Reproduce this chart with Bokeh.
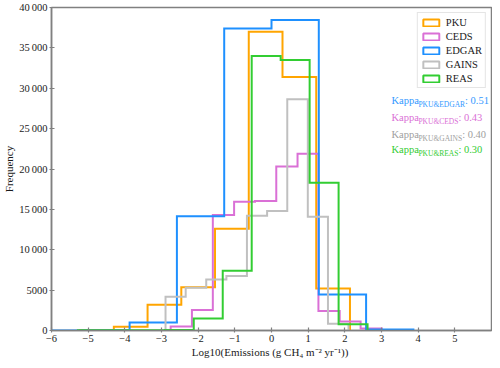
from bokeh.plotting import figure
from bokeh.models import (Range1d, CustomJSTickFormatter, FixedTicker, Label,
                          Legend, LegendItem)
from bokeh.embed import file_html
from bokeh.resources import INLINE

# ---------------- data ----------------
names = ["PKU", "CEDS", "EDGAR", "GAINS", "REAS"]
colors = ["#FFA500", "#DA70D6", "#1E90FF", "#C0C0C0", "#32CD32"]

pku_edges = [-5.22, -4.30, -3.38, -2.46, -1.54, -0.62, 0.30, 1.22, 2.14]
pku_counts = [60, 450, 3200, 5350, 12600, 37000, 31400, 5200]

ceds_edges = [-2.75, -2.17, -1.60, -1.02, -0.45, 0.13, 0.71, 1.28, 1.86, 2.43, 3.01]
ceds_counts = [500, 2550, 14300, 15950, 16050, 20300, 21900, 2400, 1100, 250]

edgar_edges = [-6.45, -5.16, -3.87, -2.58, -1.29, 0.00, 1.29, 2.58, 3.87]
edgar_counts = [10, 20, 1000, 14150, 37400, 38450, 4450, 120]

gains_edges = [-2.89, -2.34, -1.78, -1.23, -0.67, -0.12, 0.43, 0.99, 1.54, 2.10]
gains_counts = [4180, 5300, 6320, 6750, 14200, 14800, 28650, 14100, 850]

reas_edges = [-5.28, -4.49, -3.70, -2.91, -2.12, -1.33, -0.54, 0.25, 1.04, 1.83, 2.62]
reas_counts = [20, 20, 30, 60, 1500, 7400, 34000, 33500, 18300, 780]

x_ticks = [-6, -5, -4, -3, -2, -1, 0, 1, 2, 3, 4, 5]
y_ticks = [0, 5000, 10000, 15000, 20000, 25000, 30000, 35000, 40000]

kappa_pairs = ["PKU&EDGAR", "PKU&CEDS", "PKU&GAINS", "PKU&REAS"]
kappa_values = [0.51, 0.43, 0.40, 0.30]
kappa_colors = ["#3399FF", "#DA70D6", "#A0A0A0", "#33CC33"]

FONT = "Liberation Serif"

# ---------------- figure ----------------
p = figure(width=492, height=360, x_range=Range1d(-6, 6), y_range=Range1d(0, 40000),
           output_backend="svg", toolbar_location=None,
           min_border_left=0, min_border_right=1, min_border_top=7, min_border_bottom=0)
p.grid.visible = False
p.outline_line_color = "#808080"
p.outline_line_width = 1.5
p.background_fill_color = "white"
p.border_fill_color = "white"

for ax in (p.xaxis[0], p.yaxis[0]):
    ax.axis_line_color = "#808080"
    ax.axis_line_width = 1.5
    ax.major_tick_line_color = "#808080"
    ax.major_tick_line_width = 1.2
    ax.minor_tick_line_color = None
    ax.major_label_text_font = FONT
    ax.major_label_text_font_size = "10.5px"
    ax.major_label_text_color = "#1a1a1a"
    ax.axis_label_text_font = FONT
    ax.axis_label_text_font_size = "11px"
    ax.axis_label_text_font_style = "normal"
    ax.axis_label_text_color = "#1a1a1a"
    ax.major_tick_in = 3
    ax.major_tick_out = 2

p.xaxis[0].ticker = FixedTicker(ticks=x_ticks)
p.yaxis[0].ticker = FixedTicker(ticks=y_ticks)
p.xaxis[0].formatter = CustomJSTickFormatter(
    code="return tick < 0 ? '\\u2212' + Math.abs(tick) : String(tick);")
p.yaxis[0].formatter = CustomJSTickFormatter(
    code="const t = Math.round(tick); if (t >= 10000) { return Math.floor(t/1000) + '\\u2009' + String(t % 1000).padStart(3, '0'); } return String(t);")
p.xaxis[0].major_label_standoff = 2
p.yaxis[0].major_label_standoff = 2
p.xaxis[0].axis_label_standoff = 1
p.yaxis[0].axis_label_standoff = 1
p.xaxis[0].axis_label = "Log10(Emissions (g  CH\u2084 m\u207b\u00b2 yr\u207b\u00b9))"
p.yaxis[0].axis_label = "Frequency"


def step_outline(edges, counts):
    xs = [edges[0]]
    ys = [0]
    for i, c in enumerate(counts):
        xs += [edges[i], edges[i + 1]]
        ys += [c, c]
    xs.append(edges[-1])
    ys.append(0)
    return xs, ys


series = [(pku_edges, pku_counts), (ceds_edges, ceds_counts), (edgar_edges, edgar_counts),
          (gains_edges, gains_counts), (reas_edges, reas_counts)]

items = []
for name, col, (e, c) in zip(names, colors, series):
    xs, ys = step_outline(e, c)
    p.line(xs, ys, line_color=col, line_width=2, line_join="miter")
    # zero-size proxy quad (at the series' first edge, on the baseline) for the legend swatch
    q = p.quad(left=[e[0]], right=[e[0]], top=[0], bottom=[0], fill_color="white",
               line_color=col, line_width=2, line_alpha=1.0)
    items.append(LegendItem(label=name, renderers=[q]))

legend = Legend(items=items, location="top_right")
legend.label_text_font = FONT
legend.label_text_font_size = "10.5px"
legend.label_text_color = "#1a1a1a"
legend.glyph_width = 20
legend.glyph_height = 9
legend.label_height = 12
legend.label_standoff = 5
legend.spacing = 2
legend.padding = 3
legend.margin = 5
legend.border_line_color = "#cccccc"
legend.border_line_width = 1
legend.background_fill_alpha = 1.0
p.add_layout(legend)

# Kappa annotations (composite text with subscripts)
sub_char_w = {"P": .556, "K": .722, "U": .722, "&": .778, "E": .611, "D": .722,
              "G": .722, "A": .722, "R": .667, "C": .667, "S": .556, "I": .333, "N": .722}
SUB_SIZE = 7.5
kappa_x = 3.27
kappa_y = [28430, 26380, 24330, 22400]
for pair, val, col, ky in zip(kappa_pairs, kappa_values, kappa_colors, kappa_y):
    p.add_layout(Label(x=kappa_x, y=ky, text="Kappa", text_font=FONT,
                       text_font_size="10.5px", text_color=col, text_baseline="middle"))
    p.add_layout(Label(x=kappa_x, y=ky, x_offset=27, y_offset=-4, text=pair, text_font=FONT,
                       text_font_size=f"{SUB_SIZE}px", text_color=col, text_baseline="middle"))
    w = sum(sub_char_w.get(ch, 0.6) for ch in pair) * SUB_SIZE
    p.add_layout(Label(x=kappa_x, y=ky, x_offset=27 + w, text=f": {val:.2f}", text_font=FONT,
                       text_font_size="10.5px", text_color=col, text_baseline="middle"))

open("out.html", "w").write(file_html(p, INLINE))
